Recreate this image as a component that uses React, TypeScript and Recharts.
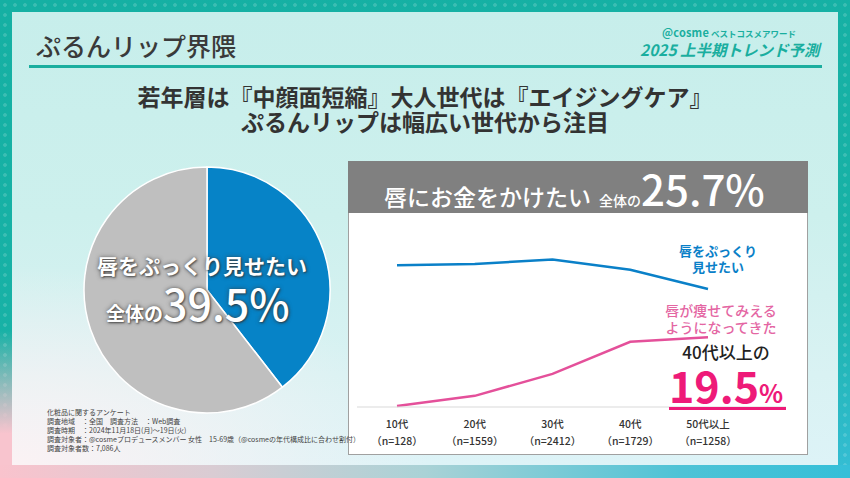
import { PieChart, Pie, Cell, LineChart, Line, XAxis, YAxis } from 'recharts';

// ── Data ───────────────────────────────────────────────────────────────────────

const AGE_GROUPS   = ['10代', '20代', '30代', '40代', '50代以上'];
const SAMPLE_SIZES = [128, 1559, 2412, 1729, 1258];
const PLUMP_LOOK   = [39.4, 39.7, 41.0, 38.1, 32.8]; // 唇をぷっくり見せたい
const THINNING     = [0.3, 3.1, 9.2, 18.1, 19.4];    // 唇が痩せてみえるようになってきた

const PIE_NAMES  = ['唇をぷっくり見せたい', 'その他'];
const PIE_VALUES = [39.5, 60.5];

const NOTES = [
  '化粧品に関するアンケート',
  '調査地域　：全国　調査方法　：Web調査',
  '調査時期　：2024年11月18日(月)～19日(火)',
  '調査対象者：@cosmeプロデュースメンバー 女性　15-69歳（@cosmeの年代構成比に合わせ割付）',
  '調査対象者数：7,086人',
];

const lineData = AGE_GROUPS.map((age, i) => ({ age, plump: PLUMP_LOOK[i], thin: THINNING[i] }));
const pieData  = PIE_NAMES.map((name, i) => ({ name, value: PIE_VALUES[i] }));

// ── Styles ─────────────────────────────────────────────────────────────────────

const FONT  = '"Noto Sans CJK JP", "Noto Sans", sans-serif';
const TEAL  = '#1AAE9F';
const BLUE  = '#0A80C8';
const PINK  = '#E4509A';
const HOT   = '#EE1A78';
const PIE_COLORS = ['#0683C7', '#BFBFBF'];

const abs = (left: number, top: number, extra: React.CSSProperties = {}): React.CSSProperties =>
  ({ position: 'absolute', left, top, ...extra });

const pieShadow = '0 0 4px rgba(60,60,60,0.75), 1px 1px 2px rgba(40,40,40,0.7)';

// ── Tick ───────────────────────────────────────────────────────────────────────

function AgeTick({ x, y, payload, index }: any) {
  return (
    <g transform={`translate(${x},${y})`} fontFamily={FONT} fontSize={10.5} fill="#333" fontWeight={500}>
      <text textAnchor="middle" y={21}>{payload.value}</text>
      <text textAnchor="middle" y={38}>（n={SAMPLE_SIZES[index]}）</text>
    </g>
  );
}

// ── Main ───────────────────────────────────────────────────────────────────────

export default function App() {
  return (
    <div style={{
      position: 'absolute', left: 0, top: 0, width: 850, height: 478, overflow: 'hidden',
      fontFamily: FONT,
      backgroundColor: '#17B1A5',
      backgroundImage:
        'radial-gradient(circle, rgba(255,255,255,0.16) 1.5px, transparent 2.2px),' +
        'linear-gradient(170deg, #15B0A3 0%, #18B2A7 70%, #36BED6 100%)',
      backgroundSize: '10px 10px, 100% 100%',
    }}>
      {/* frame accents */}
      <div style={abs(0, 330, { width: 12, height: 148,
        background: 'linear-gradient(to bottom, rgba(248,196,206,0) 0%, #F8C4CE 70%)' })} />
      <div style={abs(0, 465, { width: 850, height: 13,
        background: 'linear-gradient(to right, #F9C3CD 0%, #D9CCD3 25%, #A9D2D6 50%, #4EC3D6 80%, #35BFD8 100%)' })} />

      {/* inner panel */}
      <div style={abs(12, 12, {
        width: 826, height: 453,
        background:
          'radial-gradient(ellipse 420px 200px at 0% 100%, #FBF2F4 0%, rgba(250,242,244,0.6) 45%, rgba(250,242,244,0) 100%),' +
          'linear-gradient(to bottom, #C7EEEB 0%, #CDF0ED 45%, #D9F2F3 80%, #DDF3F7 100%)',
      })} />

      {/* header */}
      <div style={abs(36, 29, { fontSize: 25, color: '#3A3A3A', fontWeight: 500, lineHeight: '32px', whiteSpace: 'nowrap' })}>
        ぷるんリップ界隈
      </div>
      <div style={abs(29, 65, { width: 793, height: 3, background: TEAL })} />
      <div style={abs(662, 26, { fontSize: 8.5, color: TEAL, fontWeight: 700, lineHeight: '12px', whiteSpace: 'nowrap' })}>
        <span style={{ fontSize: 11, letterSpacing: 0.2 }}>@cosme</span> ベストコスメアワード
      </div>
      <div style={abs(640, 39, { fontSize: 15.5, color: TEAL, fontWeight: 700, fontStyle: 'italic', lineHeight: '20px', whiteSpace: 'nowrap' })}>
        2025 上半期トレンド予測
      </div>

      {/* subtitle */}
      <div style={abs(0, 84, { width: 850, textAlign: 'center', fontSize: 23, fontWeight: 700, color: '#333', lineHeight: '25px', whiteSpace: 'nowrap' })}>
        若年層は『中顔面短縮』大人世代は『エイジングケア』
      </div>
      <div style={abs(0, 109, { width: 850, textAlign: 'center', fontSize: 23, fontWeight: 700, color: '#333', lineHeight: '24px', whiteSpace: 'nowrap' })}>
        ぷるんリップは幅広い世代から注目
      </div>

      {/* pie */}
      <div style={abs(72, 155)}>
        <PieChart width={260} height={260}>
          <Pie
            data={pieData} dataKey="value" nameKey="name"
            cx={130} cy={130} outerRadius={123} innerRadius={0}
            startAngle={90} endAngle={-270}
            stroke="#FFFFFF" strokeWidth={1.5}
            isAnimationActive={false}
          >
            {pieData.map((d, i) => <Cell key={d.name} fill={PIE_COLORS[i]} />)}
          </Pie>
        </PieChart>
      </div>
      <div style={abs(72, 251, { width: 260, textAlign: 'center', color: '#fff', fontSize: 21, fontWeight: 700, lineHeight: '28px', textShadow: pieShadow, whiteSpace: 'nowrap' })}>
        唇をぷっくり見せたい
      </div>
      <div style={abs(106, 279, { color: '#fff', fontWeight: 700, textShadow: pieShadow, whiteSpace: 'nowrap', lineHeight: '46px' })}>
        <span style={{ fontSize: 19 }}>全体の</span>
        <span style={{ fontSize: 43, fontWeight: 500 }}>39.5%</span>
      </div>

      {/* right panel */}
      <div style={abs(348, 161, { width: 460, height: 52, background: '#808080' })} />
      <div style={abs(384, 163, { color: '#fff', whiteSpace: 'nowrap', lineHeight: '50px' })}>
        <span style={{ fontSize: 23, fontWeight: 500 }}>唇にお金をかけたい</span>
        <span style={{ fontSize: 14, fontWeight: 500, marginLeft: 8 }}>全体の</span>
        <span style={{ fontSize: 42, fontWeight: 500 }}>25.7%</span>
      </div>
      <div style={abs(348, 213, { width: 458, height: 241, background: '#fff', border: '1px solid #A0A0A0', borderTop: 'none' })} />

      <div style={abs(348, 213)}>
        <LineChart width={460} height={242} data={lineData} margin={{ top: 14, right: 22, bottom: 0, left: 9 }}>
          <XAxis
            dataKey="age"
            padding={{ left: 40, right: 78 }}
            axisLine={{ stroke: '#D9D9D9' }}
            tickLine={false}
            tickSize={0}
            tickMargin={0}
            height={48}
            interval={0}
            tick={<AgeTick />}
          />
          <YAxis hide domain={[0, 50]} />
          <Line dataKey="plump" stroke={BLUE} strokeWidth={2.5} dot={false} isAnimationActive={false} />
          <Line dataKey="thin" stroke={PINK} strokeWidth={2.5} dot={false} isAnimationActive={false} />
        </LineChart>
      </div>

      {/* annotations */}
      <div style={abs(668, 243, { width: 100, textAlign: 'center', color: BLUE, fontSize: 13, fontWeight: 700, lineHeight: '16px' })}>
        唇をぷっくり<br />見せたい
      </div>
      <div style={abs(660, 302, { width: 122, textAlign: 'center', color: '#E466A3', fontSize: 14, fontWeight: 500, lineHeight: '17px' })}>
        唇が痩せてみえる<br />ようになってきた
      </div>
      <div style={abs(664, 342, { width: 124, textAlign: 'center', color: '#222', fontSize: 17, fontWeight: 500, lineHeight: '20px' })}>
        40代以上の
      </div>
      <div style={abs(669, 363, { color: HOT, whiteSpace: 'nowrap', lineHeight: '42px', fontWeight: 700 })}>
        <span style={{ fontSize: 43 }}>19.5</span>
        <span style={{ fontSize: 25 }}>%</span>
      </div>
      <div style={abs(669, 407, { width: 117, height: 3, background: HOT })} />

      {/* notes */}
      <div style={abs(47, 408, { fontSize: 7, color: '#444', lineHeight: '9px', whiteSpace: 'nowrap' })}>
        {NOTES.map(n => <div key={n}>{n}</div>)}
      </div>
    </div>
  );
}
